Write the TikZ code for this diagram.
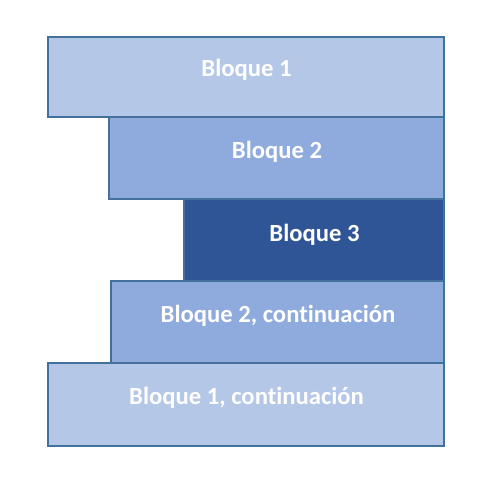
\documentclass[tikz,border=0pt]{standalone}
\usepackage{fontspec}
\setmainfont[Ligatures=NoCommon]{Carlito}
\usepackage{tikz}

\definecolor{bloqueclaro}{RGB}{180,199,231}
\definecolor{bloquemedio}{RGB}{143,170,220}
\definecolor{bloqueoscuro}{RGB}{47,85,151}
\definecolor{bordeazul}{RGB}{65,113,156}

\tikzset{
  bloque/.style={draw=bordeazul,line width=1.1pt},
  texto/.style={anchor=base,inner sep=0.75pt,text=white,font=\fontsize{18.5}{22}\selectfont\bfseries}
}

\begin{document}
\begin{tikzpicture}[x=0.75pt,y=0.75pt,yscale=-1,xscale=1]
\useasboundingbox (0,0) rectangle (498,488);

%Shape: Rectangle [Bloque 1]
\draw [bloque,fill=bloqueclaro] (48,37) rectangle (444,117) ;
%Shape: Rectangle [Bloque 2]
\draw [bloque,fill=bloquemedio] (109,117) rectangle (444,199) ;
%Shape: Rectangle [Bloque 3]
\draw [bloque,fill=bloqueoscuro] (184,199) rectangle (444,281) ;
%Shape: Rectangle [Bloque 2, continuacion]
\draw [bloque,fill=bloquemedio] (111,281) rectangle (444,363) ;
%Shape: Rectangle [Bloque 1, continuacion]
\draw [bloque,fill=bloqueclaro] (48,363) rectangle (444,446) ;

% Text Node
\node [texto] (b1) at (246.5,77) {Bloque 1};
% Text Node
\node [texto] (b2) at (277,158) {Bloque 2};
% Text Node
\node [texto] (b3) at (314.5,241) {Bloque 3};
% Text Node
\node [texto] (b2c) at (278,322) {Bloque 2, continuación};
% Text Node
\node [texto] (b1c) at (246.5,404) {Bloque 1, continuación};

\end{tikzpicture}
\end{document}
